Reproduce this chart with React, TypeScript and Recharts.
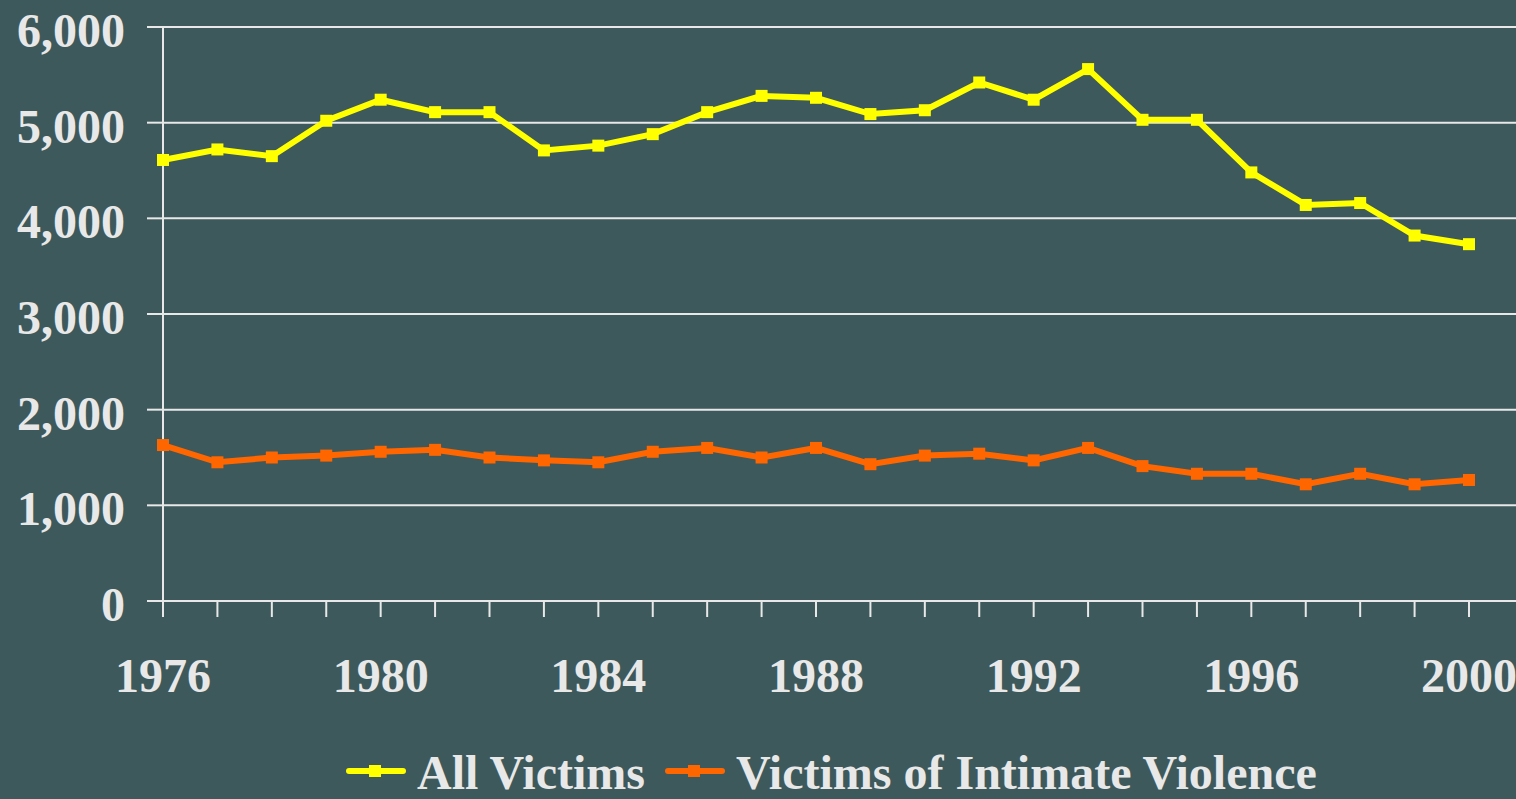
import { LineChart, Line, XAxis, YAxis, CartesianGrid, Legend } from 'recharts'

const YEARS = [1976, 1977, 1978, 1979, 1980, 1981, 1982, 1983, 1984, 1985, 1986, 1987, 1988,
  1989, 1990, 1991, 1992, 1993, 1994, 1995, 1996, 1997, 1998, 1999, 2000]
const ALL_VICTIMS = [4610, 4720, 4650, 5020, 5240, 5110, 5110, 4710, 4760, 4880, 5110, 5280, 5260,
  5090, 5130, 5420, 5240, 5560, 5030, 5030, 4480, 4140, 4160, 3820, 3730]
const INTIMATE = [1630, 1450, 1500, 1520, 1560, 1580, 1500, 1470, 1450, 1560, 1600, 1500, 1600,
  1430, 1520, 1540, 1470, 1600, 1410, 1330, 1330, 1220, 1330, 1220, 1265]
const Y_TICKS = [0, 1000, 2000, 3000, 4000, 5000, 6000]
const LABEL_YEARS = [1976, 1980, 1984, 1988, 1992, 1996, 2000]

const SERIES = [
  { key: 'all', name: 'All Victims', color: '#ffff00' },
  { key: 'intimate', name: 'Victims of Intimate Violence', color: '#ff6600' },
]

const data = YEARS.map((year, i) => ({ year, all: ALL_VICTIMS[i], intimate: INTIMATE[i] }))

const BG = '#3d595b'
const FG = '#e8e8e8'
const FONT = '"Liberation Serif", "Times New Roman", serif'

function squareDot(color: string) {
  return (props: any) => (
    <rect key={`d-${props.index}`} x={props.cx - 6} y={props.cy - 6} width={12} height={12} fill={color} />
  )
}

function XTick(props: any) {
  const { x, y, payload } = props
  if (!LABEL_YEARS.includes(payload.value)) return <g />
  return (
    <text x={x} y={y + 73} textAnchor="middle" fill={FG} fontSize={48} fontWeight="bold" fontFamily={FONT}>
      {payload.value}
    </text>
  )
}

function YTick(props: any) {
  const { x, y, payload } = props
  return (
    <text x={x - 20} y={y} dy="0.42em" textAnchor="end" fill={FG} fontSize={48} fontWeight="bold" fontFamily={FONT}>
      {payload.value.toLocaleString('en-US')}
    </text>
  )
}

// legend laid out by hand: icon, text, icon, text
function LegendContent() {
  return (
    <div style={{ display: 'flex', alignItems: 'flex-start' }}>
      {SERIES.map((s, i) => (
        <div key={s.key} style={{ display: 'flex', alignItems: 'flex-start', marginLeft: i === 0 ? 0 : 20 }}>
          <svg width={60} height={16} style={{ marginTop: 12, marginRight: 11 }}>
            <line x1={3} y1={8} x2={57} y2={8} stroke={s.color} strokeWidth={6} strokeLinecap="round" />
            <rect x={23} y={2} width={12} height={12} fill={s.color} />
          </svg>
          <span style={{ color: FG, fontSize: 48, fontWeight: 'bold', fontFamily: FONT, lineHeight: '44px', whiteSpace: 'nowrap' }}>
            {s.name}
          </span>
        </div>
      ))}
    </div>
  )
}

export default function App() {
  return (
    <div style={{ position: 'absolute', left: 0, top: 0, width: 1516, height: 799, background: BG, overflow: 'hidden' }}>
      <LineChart width={1516} height={799} data={data} margin={{ top: 27, right: 0, left: 0, bottom: 0 }}>
        <CartesianGrid horizontal vertical={false} stroke={FG} strokeWidth={2} />
        <XAxis
          dataKey="year"
          type="number"
          domain={[1976, 2000]}
          ticks={YEARS}
          interval={0}
          padding={{ left: 0, right: 47 }}
          height={198}
          tickSize={16}
          axisLine={{ stroke: FG, strokeWidth: 2 }}
          tickLine={{ stroke: FG, strokeWidth: 2 }}
          tick={<XTick />}
        />
        <YAxis
          domain={[0, 6000]}
          ticks={Y_TICKS}
          width={163}
          tickSize={16}
          axisLine={{ stroke: FG, strokeWidth: 2 }}
          tickLine={{ stroke: FG, strokeWidth: 2 }}
          tick={<YTick />}
        />
        <Legend
          verticalAlign="middle"
          align="center"
          layout="horizontal"
          wrapperStyle={{ top: 751, left: 346, width: 1000 }}
          content={<LegendContent />}
        />
        {SERIES.map((s) => (
          <Line
            key={s.key}
            type="linear"
            dataKey={s.key}
            name={s.name}
            stroke={s.color}
            strokeWidth={6}
            dot={squareDot(s.color)}
            activeDot={false}
            isAnimationActive={false}
          />
        ))}
      </LineChart>
    </div>
  )
}
